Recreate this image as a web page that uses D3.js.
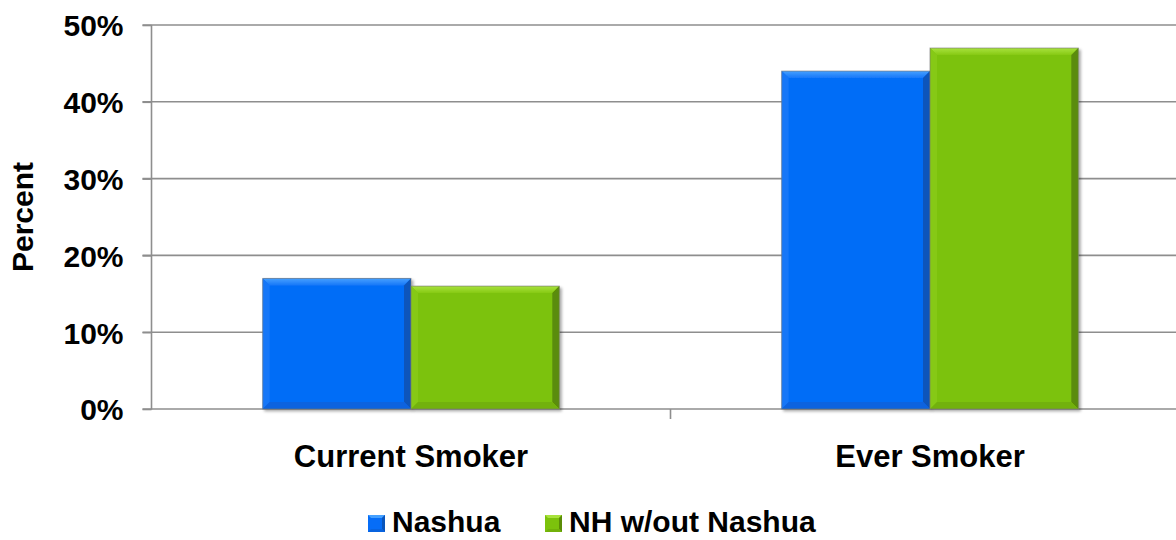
<!DOCTYPE html>
<html>
<head>
<meta charset="utf-8">
<script src="https://cdn.jsdelivr.net/npm/d3@7"></script>
<style>
  html, body { margin: 0; padding: 0; background: #fff; }
  svg { display: block; font-family: "Liberation Sans", Arial, sans-serif; font-weight: bold; }
</style>
</head>
<body>
<svg id="chart" width="1176" height="540"></svg>
<script>
// Smoking status, Nashua vs. rest of New Hampshire
const categories = ["Current Smoker", "Ever Smoker"];
const seriesNames = ["Nashua", "NH w/out Nashua"];
const nashua = [17, 44];
const nhWithout = [16, 47];
const yTicks = [0, 10, 20, 30, 40, 50];
const yTickLabels = ["0%", "10%", "20%", "30%", "40%", "50%"];

const palette = {
  "Nashua": { base: "#066df7", light: "#45a0ff", lighter: "#1677f8", dark: "#0863df", darker: "#0a55bb" },
  "NH w/out Nashua": { base: "#7cc20c", light: "#a8e23c", lighter: "#86c915", dark: "#72b10a", darker: "#5a8c07" }
};

const svg = d3.select("#chart");
const plot = { left: 151.5, right: 1189.5, top: 25, bottom: 409 };

const rows = categories.map((c, i) => ({
  category: c,
  values: [
    { series: seriesNames[0], value: nashua[i] },
    { series: seriesNames[1], value: nhWithout[i] }
  ]
}));

const x0 = d3.scaleBand().domain(categories).range([plot.left, plot.right]).padding(0);
const x1 = d3.scaleBand().domain(seriesNames).range([0, x0.bandwidth()])
  .paddingInner(0).paddingOuter(0.75);
const y = d3.scaleLinear().domain([0, 50]).range([plot.bottom, plot.top]);

const gridColor = "#8e8e8e";

// horizontal gridlines
svg.append("g")
  .selectAll("line")
  .data(yTicks)
  .join("line")
  .attr("x1", plot.left - 9)
  .attr("x2", plot.right)
  .attr("y1", d => y(d))
  .attr("y2", d => y(d))
  .attr("stroke", gridColor)
  .attr("stroke-width", 1.6);

// y axis with percent labels
const yAxis = d3.axisLeft(y)
  .tickValues(yTicks)
  .tickFormat((d, i) => yTickLabels[i])
  .tickSize(9)
  .tickPadding(19);
const gy = svg.append("g")
  .attr("transform", `translate(${plot.left},0)`)
  .call(yAxis);
gy.select(".domain").attr("stroke", gridColor).attr("stroke-width", 1.6)
  .attr("d", `M0,${plot.bottom + 0.5}V${plot.top}`);
gy.selectAll(".tick line").attr("stroke", gridColor).attr("stroke-width", 1.6);
gy.selectAll(".tick text")
  .attr("fill", "#000")
  .style("font-size", "30px")
  .style("font-family", "'Liberation Sans', Arial, sans-serif")
  .style("font-weight", "bold")
  .attr("dy", "0.36em");

// x axis: category labels
const xAxis = d3.axisBottom(x0).tickSize(0).tickPadding(0);
const gx = svg.append("g")
  .attr("transform", `translate(0,${plot.bottom})`)
  .call(xAxis);
gx.select(".domain").remove();
gx.selectAll(".tick text")
  .attr("fill", "#000")
  .attr("y", 58)
  .attr("dy", 0)
  .style("font-size", "31px")
  .style("font-family", "'Liberation Sans', Arial, sans-serif")
  .style("font-weight", "bold");
// separators between categories
svg.append("g")
  .selectAll("line")
  .data(categories.slice(1))
  .join("line")
  .attr("x1", d => x0(d))
  .attr("x2", d => x0(d))
  .attr("y1", plot.bottom)
  .attr("y2", plot.bottom + 10)
  .attr("stroke", gridColor)
  .attr("stroke-width", 1.6);

// soft shadow behind bars
const defs = svg.append("defs");
const shadow = defs.append("filter").attr("id", "barShadow")
  .attr("x", "-10%").attr("y", "-10%").attr("width", "130%").attr("height", "130%");
shadow.append("feGaussianBlur").attr("in", "SourceAlpha").attr("stdDeviation", 1.8).attr("result", "blur");
shadow.append("feOffset").attr("in", "blur").attr("dx", 1.5).attr("dy", 1.5).attr("result", "off");
shadow.append("feComponentTransfer").attr("in", "off").attr("result", "soft")
  .append("feFuncA").attr("type", "linear").attr("slope", 0.35);
const merge = shadow.append("feMerge");
merge.append("feMergeNode").attr("in", "soft");
merge.append("feMergeNode").attr("in", "SourceGraphic");

// gradients for the top highlight facet
seriesNames.forEach((s, i) => {
  const c = palette[s];
  const gr = defs.append("linearGradient").attr("id", "topGrad" + i)
    .attr("x1", 0).attr("y1", 0).attr("x2", 0).attr("y2", 1);
  gr.append("stop").attr("offset", "0%").attr("stop-color", c.light);
  gr.append("stop").attr("offset", "100%").attr("stop-color", c.lighter);
});

// bevelled bars
const bevel = 7;
const groups = svg.append("g")
  .selectAll("g")
  .data(rows)
  .join("g")
  .attr("transform", d => `translate(${x0(d.category)},0)`);

const bars = groups.selectAll("g.bar")
  .data(d => d.values)
  .join("g")
  .attr("class", "bar")
  .attr("filter", "url(#barShadow)");

bars.each(function(d) {
  const g = d3.select(this);
  const c = palette[d.series];
  const gi = seriesNames.indexOf(d.series);
  const bx = x1(d.series), bw = x1.bandwidth();
  const by = y(d.value), bh = y(0) - y(d.value);
  const x2 = bx + bw, y2 = by + bh, b = bevel;
  g.append("rect").attr("x", bx).attr("y", by).attr("width", bw).attr("height", bh).attr("fill", c.base);
  // top facet
  g.append("path").attr("d", `M${bx},${by}L${x2},${by}L${x2 - b},${by + b}L${bx + b},${by + b}Z`)
    .attr("fill", `url(#topGrad${gi})`);
  // left facet
  g.append("path").attr("d", `M${bx},${by}L${bx + b},${by + b}L${bx + b},${y2 - b}L${bx},${y2}Z`).attr("fill", c.lighter);
  // right facet
  g.append("path").attr("d", `M${x2},${by}L${x2},${y2}L${x2 - b},${y2 - b}L${x2 - b},${by + b}Z`).attr("fill", c.darker);
  // bottom facet
  g.append("path").attr("d", `M${bx},${y2}L${x2},${y2}L${x2 - b},${y2 - b}L${bx + b},${y2 - b}Z`).attr("fill", c.dark);
  // outline
  g.append("rect").attr("x", bx).attr("y", by).attr("width", bw).attr("height", bh)
    .attr("fill", "none").attr("stroke", "#777").attr("stroke-width", 1).attr("stroke-opacity", 0.6);
});

// y axis title
svg.append("text")
  .attr("transform", `translate(33,${(plot.top + plot.bottom) / 2}) rotate(-90)`)
  .attr("text-anchor", "middle")
  .style("font-size", "30px")
  .text("Percent");

// legend
const legendX = [368, 545];
const legend = svg.append("g")
  .selectAll("g")
  .data(seriesNames)
  .join("g")
  .attr("transform", (d, i) => `translate(${legendX[i]},515)`);
legend.each(function(d, i) {
  const g = d3.select(this);
  const c = palette[d];
  const s = 17, b = 3;
  g.append("rect").attr("width", s).attr("height", s).attr("fill", c.base);
  g.append("path").attr("d", `M0,0L${s},0L${s - b},${b}L${b},${b}Z`).attr("fill", c.light);
  g.append("path").attr("d", `M${s},0L${s},${s}L${s - b},${s - b}L${s - b},${b}Z`).attr("fill", c.darker);
  g.append("path").attr("d", `M0,${s}L${s},${s}L${s - b},${s - b}L${b},${s - b}Z`).attr("fill", c.dark);
  g.append("text").attr("x", 24).attr("y", 17).style("font-size", "30px").text(d);
});
</script>
</body>
</html>
